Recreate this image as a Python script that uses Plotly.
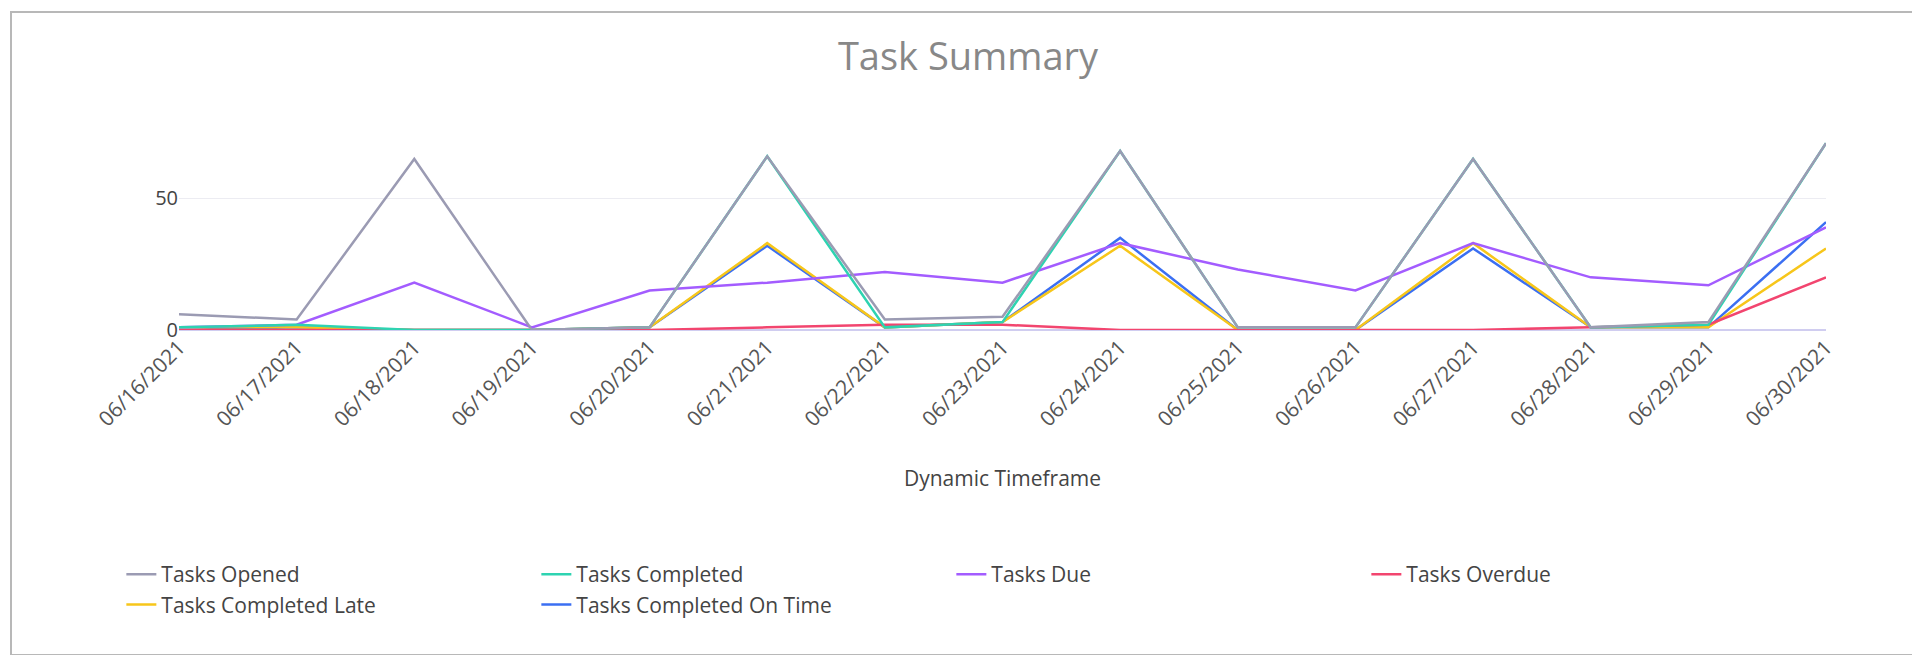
import plotly.graph_objects as go

dates = ["06/16/2021","06/17/2021","06/18/2021","06/19/2021","06/20/2021","06/21/2021","06/22/2021",
         "06/23/2021","06/24/2021","06/25/2021","06/26/2021","06/27/2021","06/28/2021","06/29/2021","06/30/2021"]
opened    = [6, 4, 65, 0, 1, 66, 4, 5, 68, 1, 1, 65, 1, 3, 71]
completed = [1, 2, 0, 0, 1, 66, 1, 3, 68, 1, 1, 65, 1, 2, 71]
due       = [1, 2, 18, 1, 15, 18, 22, 18, 33, 23, 15, 33, 20, 17, 39]
overdue   = [0, 0, 0, 0, 0, 1, 2, 2, 0, 0, 0, 0, 1, 2, 20]
late      = [1, 1, 0, 0, 1, 33, 1, 3, 32, 0, 0, 33, 1, 1, 31]
ontime    = [0, 1, 0, 0, 1, 32, 1, 3, 35, 0, 0, 31, 1, 1, 41]

series = [
    ("Tasks Opened", opened, "#9b9bb3", 1),
    ("Tasks Completed", completed, "#2ed3b1", 2),
    ("Tasks Due", due, "#a35cff", 3),
    ("Tasks Overdue", overdue, "#f2456f", 4),
    ("Tasks Completed Late", late, "#f7c61a", 5),
    ("Tasks Completed On Time", ontime, "#3b6ff2", 6),
]

fig = go.Figure()
for name, vals, col, rank in reversed(series):
    fig.add_trace(go.Scatter(x=dates, y=vals, name=name, mode="lines",
                             line=dict(color=col, width=2.5), legendrank=rank))

fig.update_layout(
    width=1920, height=655,
    paper_bgcolor="white", plot_bgcolor="white",
    margin=dict(l=171, r=102, t=122, b=333),
    font=dict(family="Open Sans", color="#444", size=18),
    title=dict(text="Task Summary", x=0.5, xanchor="center", y=0.925, yanchor="middle",
               font=dict(size=38, color="#888")),
    xaxis=dict(type="category", tickangle=-45, showgrid=False, showline=False,
               tickfont=dict(size=21, color="#555"),
               title=dict(text="Dynamic Timeframe", font=dict(size=21, color="#444"), standoff=40)),
    yaxis=dict(range=[0, 76], tickvals=[0, 50], gridcolor="#ececf2", zeroline=True,
               zerolinecolor="#d0cdf0", zerolinewidth=1.5, tickfont=dict(size=20, color="#444"),
               ticks="", ticklen=20, tickcolor="white"),
    legend=dict(orientation="h", x=-0.035, y=-1.12, xanchor="left", yanchor="top",
                entrywidth=370, entrywidthmode="pixels", traceorder="normal",
                font=dict(size=21, color="#444")),
    shapes=[dict(type="rect", xref="paper", yref="paper",
                 x0=-168/1647, x1=1+92/1647, y0=-325/200, y1=1+118/200,
                 line=dict(color="#b8b8b8", width=2))],
)
fig.write_html("out.html")
